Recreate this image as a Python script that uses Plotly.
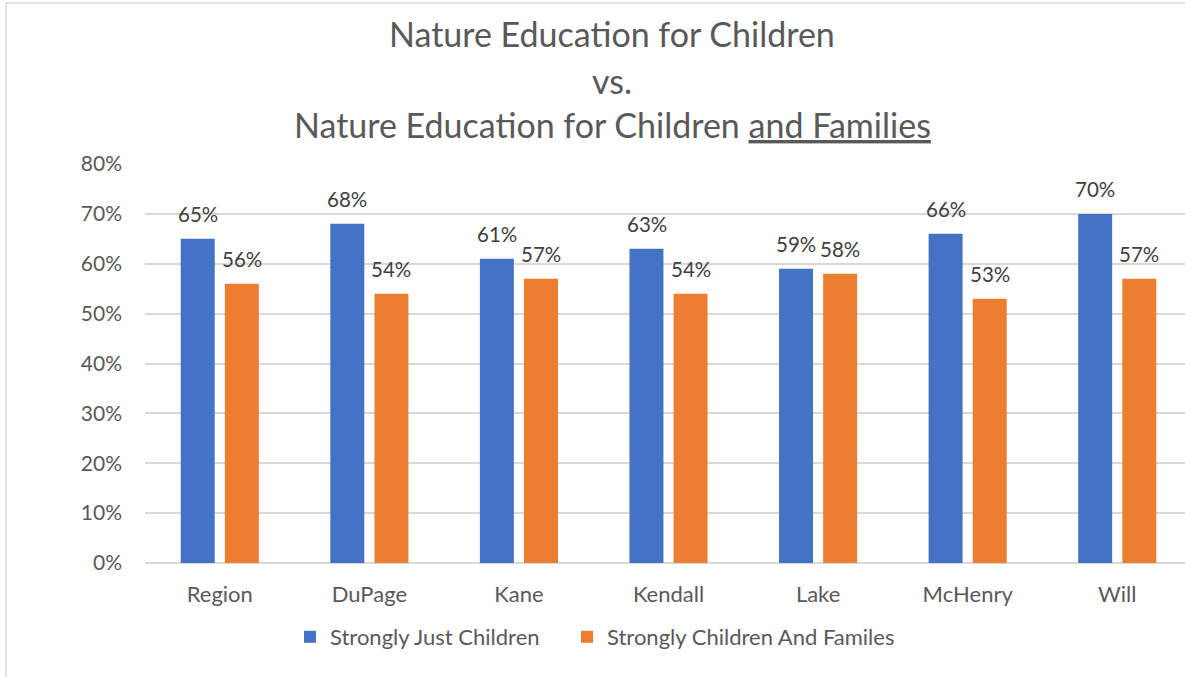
import plotly.graph_objects as go

categories = ["Region", "DuPage", "Kane", "Kendall", "Lake", "McHenry", "Will"]
just_children = [0.65, 0.68, 0.61, 0.63, 0.59, 0.66, 0.70]
children_families = [0.56, 0.54, 0.57, 0.54, 0.58, 0.53, 0.57]
series_names = ["Strongly Just Children", "Strongly Children And Familes"]
title_lines = ["Nature Education for Children", "vs.", "Nature Education for Children <u>and Families</u>"]

W, H = 1185, 677
L, R, T, B = 145, 0, 164, 114
PW, PH = W - L - R, H - T - B
FONT = "Lato"
GREY = "#595959"


def px(xpix):
    return (xpix - L) / PW


def py(ypix):
    return (H - B - ypix) / PH


fig = go.Figure()
fig.add_trace(go.Bar(x=categories, y=just_children, name=series_names[0], legend="legend",
                     marker=dict(color="#4472C4", line=dict(width=0))))
fig.add_trace(go.Bar(x=categories, y=children_families, name=series_names[1], legend="legend2",
                     marker=dict(color="#ED7D31", line=dict(width=0))))

# data labels above each bar
for vals, shift in [(just_children, -22), (children_families, 22)]:
    for c, v in zip(categories, vals):
        fig.add_annotation(x=c, y=v, xref="x", yref="y", text=f"{v:.0%}", showarrow=False,
                           xshift=shift, yshift=25, yanchor="middle",
                           font=dict(size=20.5, color="#404040", family=FONT))

# title lines
for line, ypix in zip(title_lines, [34, 80, 125]):
    fig.add_annotation(x=px(612), y=py(ypix), xref="paper", yref="paper", text=line,
                       showarrow=False, xanchor="center", yanchor="middle",
                       font=dict(size=34, color=GREY, family=FONT))

leg = dict(orientation="h", xanchor="left", y=py(637), yanchor="middle",
           font=dict(size=22, color=GREY, family=FONT), itemwidth=30,
           bgcolor="rgba(0,0,0,0)")

fig.update_layout(
    width=W, height=H,
    margin=dict(l=L, r=R, t=T, b=B, autoexpand=False),
    paper_bgcolor="white", plot_bgcolor="white",
    barmode="group", bargap=0.41, bargroupgap=0.23,
    font=dict(family=FONT, color=GREY, size=18),
    showlegend=True,
    legend=dict(leg, x=px(290)),
    legend2=dict(leg, x=px(567)),
)
fig.update_xaxes(range=[-0.5, 6.453], showgrid=False, showline=False, ticks="",
                 tickfont=dict(size=22, color=GREY, family=FONT), ticklabelstandoff=16)
fig.update_yaxes(range=[0, 0.8], dtick=0.1, tickformat=".0%", showgrid=True,
                 gridcolor="#D9D9D9", gridwidth=1.5, zeroline=True, zerolinecolor="#D9D9D9",
                 zerolinewidth=1.5, showline=False, ticks="",
                 tickfont=dict(size=21, color=GREY, family=FONT), ticklabelstandoff=22)

# outer chart border (top and left edges visible)
fig.add_shape(type="rect", xref="paper", yref="paper",
              x0=px(6), x1=1.2, y0=-0.5, y1=py(3),
              line=dict(color="#D9D9D9", width=1.5), fillcolor="rgba(0,0,0,0)", layer="below")

fig.write_html("out.html", config=dict(displayModeBar=False),
               post_script="document.body.style.margin='0';")
